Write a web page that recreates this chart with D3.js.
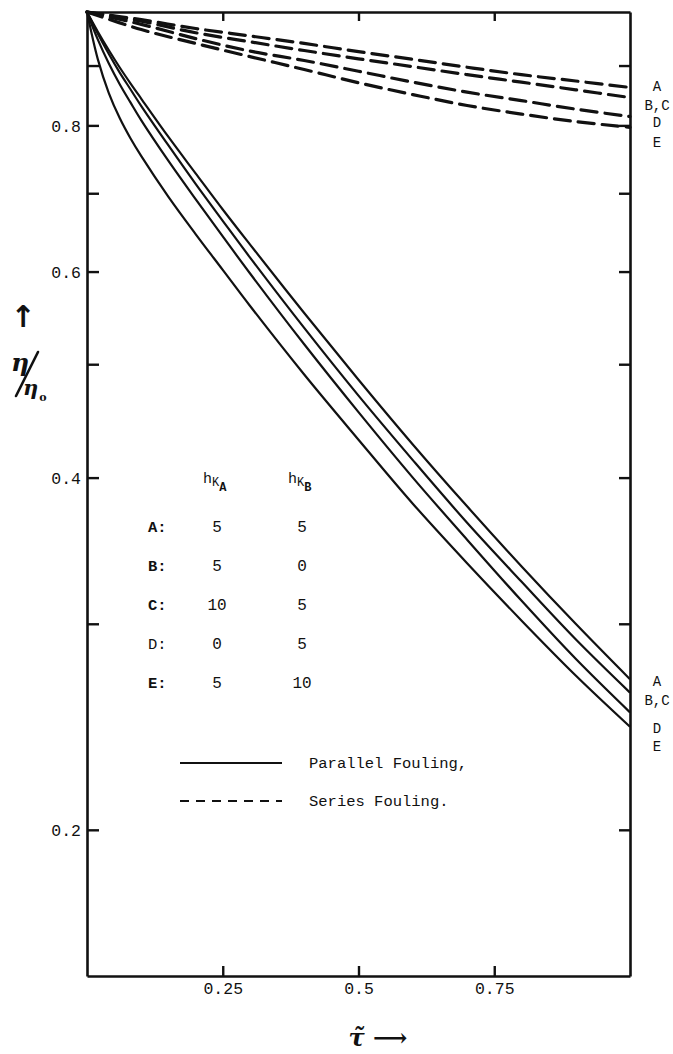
<!DOCTYPE html>
<html>
<head>
<meta charset="utf-8">
<script src="https://cdn.jsdelivr.net/npm/d3@7"></script>
<style>
  html, body { margin: 0; padding: 0; background: #fff; }
  svg { display: block; }
  .tw { font-family: "Liberation Mono", "DejaVu Sans Mono", monospace; fill: #111; }
</style>
</head>
<body>
<svg id="chart" width="673" height="1054"></svg>
<script>
// Efficiency ratio versus dimensionless time, log-scaled ordinate.
const tauParallel = [0, 0.02, 0.04, 0.06, 0.08, 0.1, 0.15, 0.2, 0.25, 0.3, 0.4, 0.5, 0.6, 0.7, 0.8, 0.9, 1.0];
const parallelA  = [1.0, 0.962, 0.928, 0.897, 0.869, 0.843, 0.782, 0.728, 0.678, 0.633, 0.553, 0.485, 0.427, 0.378, 0.336, 0.300, 0.269];
const parallelBC = [1.0, 0.958, 0.921, 0.888, 0.859, 0.831, 0.769, 0.713, 0.663, 0.617, 0.537, 0.470, 0.414, 0.366, 0.326, 0.291, 0.262];
const parallelD  = [1.0, 0.947, 0.904, 0.868, 0.837, 0.808, 0.746, 0.692, 0.643, 0.598, 0.520, 0.455, 0.400, 0.354, 0.314, 0.280, 0.252];
const parallelE  = [1.0, 0.911, 0.853, 0.812, 0.780, 0.753, 0.695, 0.646, 0.602, 0.561, 0.490, 0.431, 0.380, 0.338, 0.302, 0.271, 0.245];

const tauSeries = [0, 0.1, 0.2, 0.3, 0.4, 0.5, 0.6, 0.7, 0.8, 0.9, 1.0];
const seriesA  = [1.0, 0.985, 0.968, 0.954, 0.940, 0.925, 0.911, 0.897, 0.884, 0.873, 0.862];
const seriesBC = [1.0, 0.982, 0.960, 0.943, 0.927, 0.912, 0.898, 0.884, 0.871, 0.858, 0.845];
const seriesD  = [1.0, 0.976, 0.949, 0.926, 0.909, 0.890, 0.871, 0.854, 0.840, 0.826, 0.814];
const seriesE  = [1.0, 0.966, 0.940, 0.916, 0.893, 0.870, 0.850, 0.832, 0.818, 0.806, 0.797];

const yTicks = [0.9, 0.8, 0.7, 0.6, 0.5, 0.4, 0.3, 0.2];
const yTickLabels = { 0.8: "0.8", 0.6: "0.6", 0.4: "0.4", 0.2: "0.2" };
const xTicks = [0.25, 0.5, 0.75];
const xTickLabels = ["0.25", "0.5", "0.75"];

const tableSubs = ["A", "B"];
const tableRows = ["A:", "B:", "C:", "D:", "E:"];
const tableKA = ["5", "5", "10", "0", "5"];
const tableKB = ["5", "0", "5", "5", "10"];
const rowBold = [true, true, true, false, true];

const endLabels = ["A", "B,C", "D", "E"];
const keyLabels = ["Parallel Fouling,", "Series Fouling."];

const W = 673, H = 1054;
const margin = { top: 12, right: 43, bottom: 78, left: 87 };
const iw = W - margin.left - margin.right;
const ih = H - margin.top - margin.bottom;

const svg = d3.select("#chart");
const g = svg.append("g").attr("transform", `translate(${margin.left},${margin.top})`);

const x = d3.scaleLinear().domain([0, 1]).range([0, iw]);
const y = d3.scaleLog().domain([0.15, 1.0]).range([ih, 0]);

// frame axes, ticks pointing into the plot
function styleAxis(sel) {
  sel.select(".domain").attr("stroke", "#111").attr("stroke-width", 2.6);
  sel.selectAll(".tick line").attr("stroke", "#111").attr("stroke-width", 2.4);
  sel.selectAll(".tick text").attr("class", "tw").attr("font-size", 16.5).attr("fill", "#111");
}

g.append("g")
  .call(d3.axisLeft(y).tickValues(yTicks).tickSizeInner(-12).tickSizeOuter(0).tickPadding(6)
    .tickFormat(d => yTickLabels[d] || ""))
  .call(styleAxis)
  .call(s => s.selectAll(".tick text").attr("dy", "0.35em"));

g.append("g").attr("transform", `translate(${iw},0)`)
  .call(d3.axisRight(y).tickValues(yTicks).tickSizeInner(-11).tickSizeOuter(0).tickFormat(""))
  .call(styleAxis);

g.append("g").attr("transform", `translate(0,${ih})`)
  .call(d3.axisBottom(x).tickValues(xTicks).tickSizeInner(-10).tickSizeOuter(0).tickPadding(6)
    .tickFormat((d, i) => xTickLabels[i]))
  .call(styleAxis);

g.append("g")
  .call(d3.axisTop(x).tickValues(xTicks).tickSizeInner(-9).tickSizeOuter(0).tickFormat(""))
  .call(styleAxis);

// curves
const line = d3.line().x(d => x(d[0])).y(d => y(d[1])).curve(d3.curveCatmullRom.alpha(0.5));

const parallelSets = [parallelA, parallelBC, parallelD, parallelE];
const seriesSets = [seriesA, seriesBC, seriesD, seriesE];

g.append("g").selectAll("path").data(parallelSets).join("path")
  .attr("d", vals => line(tauParallel.map((t, i) => [t, vals[i]])))
  .attr("fill", "none").attr("stroke", "#111").attr("stroke-width", 2.2);

g.append("g").selectAll("path").data(seriesSets).join("path")
  .attr("d", vals => line(tauSeries.map((t, i) => [t, vals[i]])))
  .attr("fill", "none").attr("stroke", "#111").attr("stroke-width", 3.2)
  .attr("stroke-dasharray", "16,8").attr("stroke-linecap", "round");

// curve end labels, right of the frame
function endLabelGroup(centres) {
  g.append("g").selectAll("text").data(endLabels).join("text")
    .attr("class", "tw").attr("font-size", 14)
    .attr("x", iw + 27).attr("y", (d, i) => centres[i] + 5)
    .attr("text-anchor", "middle").text(d => d);
}
const lastS = tauSeries.length - 1, lastP = tauParallel.length - 1;
endLabelGroup([y(seriesA[lastS]) - 1, y(seriesBC[lastS]) + 7, y(seriesD[lastS]) + 5, y(seriesE[lastS]) + 15]);
endLabelGroup([y(parallelA[lastP]) + 2, y(parallelBC[lastP]) + 7, y(parallelE[lastP]) + 1, y(parallelE[lastP]) + 19]);

// parameter table
const tbl = g.append("g");
const colX = [61, 130, 215];
const hdrY = 483 - margin.top;
tableSubs.forEach((s, i) => {
  const t = tbl.append("text").attr("class", "tw").attr("font-size", 15)
    .attr("x", colX[i + 1] - 14).attr("y", hdrY);
  t.append("tspan").text("h");
  t.append("tspan").attr("font-size", 12).attr("dy", 3).text("K");
  t.append("tspan").attr("font-size", 12).attr("dy", 5).attr("font-weight", "bold").text(s);
});
tableRows.forEach((r, i) => {
  const yy = 532 - margin.top + i * 39;
  tbl.append("text").attr("class", "tw").attr("font-size", 15.5).attr("x", colX[0]).attr("y", yy)
    .attr("font-weight", rowBold[i] ? "bold" : "normal").text(r);
  tbl.append("text").attr("class", "tw").attr("font-size", 16).attr("x", colX[1]).attr("y", yy)
    .attr("text-anchor", "middle").text(tableKA[i]);
  tbl.append("text").attr("class", "tw").attr("font-size", 16).attr("x", colX[2]).attr("y", yy)
    .attr("text-anchor", "middle").text(tableKB[i]);
});

// line-style key
const key = g.append("g");
const keyY = [763, 801];
const keyDash = [null, "9,7"];
keyLabels.forEach((lbl, i) => {
  key.append("line").attr("x1", 93).attr("x2", 195)
    .attr("y1", keyY[i] - margin.top).attr("y2", keyY[i] - margin.top)
    .attr("stroke", "#111").attr("stroke-width", 1.8)
    .attr("stroke-dasharray", keyDash[i]);
  key.append("text").attr("class", "tw").attr("font-size", 15.5)
    .attr("x", 222).attr("y", keyY[i] - margin.top + 5).text(lbl);
});

// axis titles
svg.append("text").attr("x", 378).attr("y", 1046).attr("text-anchor", "middle")
  .attr("font-family", "DejaVu Serif, serif").attr("font-style", "italic").attr("font-weight", "bold")
  .attr("font-size", 24).attr("fill", "#111").text("\u03C4\u0303 \u27F6");

svg.append("text").attr("x", 23).attr("y", 327).attr("text-anchor", "middle")
  .attr("font-family", "DejaVu Sans, sans-serif").attr("font-weight", "bold")
  .attr("font-size", 30).attr("fill", "#111").text("\u2191");

// ordinate title drawn as a slanted fraction: upper eta, stroke, lower eta with subscript
const yTitle = svg.append("g").attr("fill", "#111")
  .attr("font-family", "DejaVu Serif, serif").attr("font-style", "italic").attr("font-weight", "bold");
yTitle.append("text").attr("x", 11).attr("y", 371).attr("font-size", 25).text("\u03B7");
yTitle.append("line").attr("x1", 38).attr("y1", 352).attr("x2", 16).attr("y2", 396)
  .attr("stroke", "#111").attr("stroke-width", 2.6).attr("stroke-linecap", "round");
const lowerEta = yTitle.append("text").attr("x", 23).attr("y", 395).attr("font-size", 21);
lowerEta.append("tspan").text("\u03B7");
lowerEta.append("tspan").attr("font-size", 11).attr("font-style", "normal").attr("dx", 1).attr("dy", 6).text("o");
</script>
</body>
</html>
